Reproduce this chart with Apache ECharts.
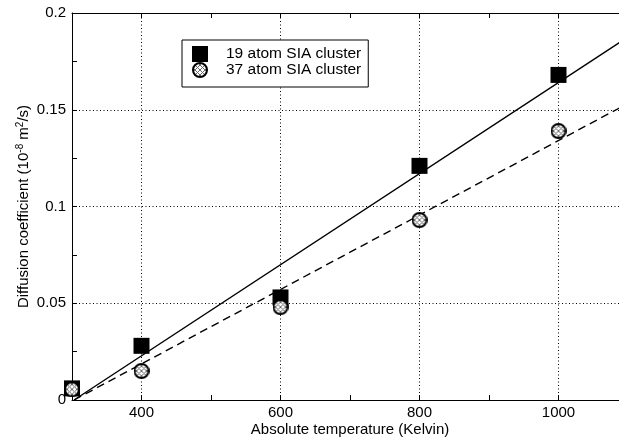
<!DOCTYPE html>
<html>
<head>
<meta charset="utf-8">
<script src="https://cdn.jsdelivr.net/npm/echarts@6/dist/echarts.min.js"></script>
<style>html,body{margin:0;padding:0;background:#fff}#c{width:619px;height:439px}</style>
</head>
<body>
<div id="c"></div>
<script>
// ---- data ----
var temps = [300, 400, 600, 800, 1000];
var d19 = [0.006, 0.028, 0.053, 0.121, 0.168];
var d37 = [0.0055, 0.015, 0.048, 0.093, 0.139];
var fitT = [303, 1100];
var fit19 = [0, 0.1876];
var fit37 = [0, 0.1533];
var xLabelTicks = [400, 600, 800, 1000];
var xGridTicks = [400, 600, 800, 1000];
var names = ['19 atom SIA cluster', '37 atom SIA cluster'];

function pairs(xs, ys) { return xs.map(function (x, i) { return [x, ys[i]]; }); }

// hatched circle marker image (drawn 1:1)
function hatchedCircle(S) {
  var c = document.createElement('canvas');
  c.width = S; c.height = S;
  var g = c.getContext('2d');
  var r = S / 2 - 1;
  g.save();
  g.beginPath(); g.arc(S / 2, S / 2, r, 0, Math.PI * 2); g.closePath();
  g.fillStyle = '#fff'; g.fill();
  g.clip();
  g.fillStyle = '#6a6a6a';
  var P = 5;
  for (var y = 0; y < S; y++) {
    for (var x = 0; x < S; x++) {
      if ((x - y + 100 * P) % P === 0 || (x + y) % P === 0) g.fillRect(x, y, 1, 1);
    }
  }
  g.restore();
  g.beginPath(); g.arc(S / 2, S / 2, r, 0, Math.PI * 2);
  g.lineWidth = 2; g.strokeStyle = '#000'; g.stroke();
  return 'image://' + c.toDataURL();
}
var circleImg = hatchedCircle(16);

var FONT = 'Liberation Sans, Arial, Helvetica, sans-serif';
var chart = echarts.init(document.getElementById('c'), null, { renderer: 'canvas' });
var axisCommon = {
  type: 'value', min: 300, max: 1100, interval: 100,
  axisLine: { show: true, onZero: false, lineStyle: { color: '#000', width: 1 } },
  axisTick: { show: true, inside: true, length: 5, lineStyle: { color: '#000' } },
  splitLine: { show: false }
};
chart.setOption({
  animation: false,
  textStyle: { fontFamily: FONT },
  grid: { left: 72, top: 13, width: 556, height: 387, outerBoundsMode: 'none', containLabel: false },
  xAxis: [
    Object.assign({}, axisCommon, {
      position: 'bottom',
      name: 'Absolute temperature (Kelvin)', nameLocation: 'middle', nameGap: 22, nameMoveOverlap: false,
      nameTextStyle: { color: '#000', fontSize: 15, fontFamily: FONT },
      axisLabel: {
        color: '#000', fontSize: 15, fontFamily: FONT, margin: 5,
        formatter: function (v) { return xLabelTicks.indexOf(v) >= 0 ? String(v) : ''; }
      }
    }),
    Object.assign({}, axisCommon, { position: 'top', axisLabel: { show: false } })
  ],
  yAxis: {
    type: 'value', min: 0, max: 0.2, interval: 0.05,
    name: '{n|Diffusion coefficient (10}{s|-8}{n| m}{s|2}{n|/s)}',
    nameLocation: 'middle', nameGap: 39, nameMoveOverlap: false,
    nameTextStyle: {
      color: '#000', fontFamily: FONT,
      rich: {
        n: { fontSize: 15, fontFamily: FONT, color: '#000' },
        s: { fontSize: 10, fontFamily: FONT, color: '#000', padding: [0, 0, 8, 0] }
      }
    },
    axisLine: { show: true, lineStyle: { color: '#000' } },
    axisTick: { show: true, inside: true, length: 5, lineStyle: { color: '#000' } },
    minorTick: { show: true, splitNumber: 2, length: 5, lineStyle: { color: '#000' } },
    axisLabel: { color: '#000', fontSize: 15, fontFamily: FONT, margin: 6 },
    splitLine: { show: true, lineStyle: { color: '#000', width: 1, type: [1, 2.5] } }
  },
  legend: {
    orient: 'vertical', left: 182, top: 40, z: 20, zlevel: 0,
    data: names,
    backgroundColor: '#fff', borderColor: '#000', borderWidth: 1,
    padding: [6, 7, 9, 10], itemGap: 0, itemWidth: 16, itemHeight: 16,
    textStyle: { color: '#000', fontSize: 15.5, fontFamily: FONT, padding: [0, 0, 0, 13] }
  },
  series: [
    {
      type: 'line', data: pairs(fitT, fit19), symbol: 'none', silent: true, z: 2,
      lineStyle: { color: '#000', width: 1.4, type: 'solid' },
      markLine: {
        silent: true, symbol: 'none', label: { show: false }, z: 1,
        lineStyle: { color: '#000', width: 1, type: [1, 2.5] },
        data: xGridTicks.map(function (t) { return { xAxis: t }; })
      }
    },
    {
      type: 'line', data: pairs(fitT, fit37), symbol: 'none', silent: true, z: 2,
      lineStyle: { color: '#000', width: 1.4, type: [8, 5] }
    },
    {
      name: names[0], type: 'scatter', data: pairs(temps, d19), z: 3,
      symbol: 'rect', symbolSize: 16,
      itemStyle: { color: '#000', borderColor: '#000', borderWidth: 0, opacity: 1 }
    },
    {
      name: names[1], type: 'scatter', data: pairs(temps, d37), z: 4,
      symbol: circleImg, symbolSize: 16,
      itemStyle: { color: '#000', opacity: 1 }
    }
  ]
});
</script>
</body>
</html>
